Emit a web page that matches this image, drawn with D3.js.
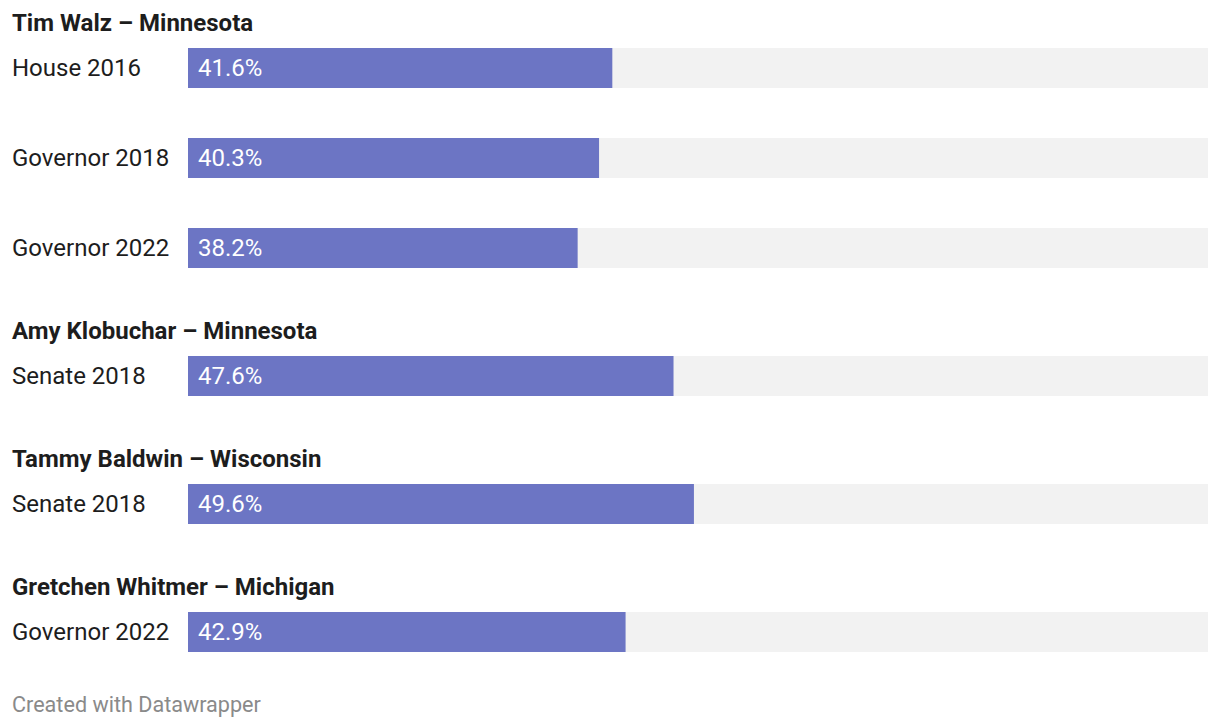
<!DOCTYPE html>
<html>
<head>
<meta charset="utf-8">
<script src="https://cdn.jsdelivr.net/npm/d3@7"></script>
<style>
  html, body { margin: 0; padding: 0; background: #fff; }
  svg { display: block; font-family: Roboto, "Noto Sans", sans-serif; }
</style>
</head>
<body>
<svg id="chart" width="1220" height="728"></svg>
<script>
// ---- data ----
const groups = ["Tim Walz – Minnesota", "Amy Klobuchar – Minnesota", "Tammy Baldwin – Wisconsin", "Gretchen Whitmer – Michigan"];
const rowGroup = [0, 0, 0, 1, 2, 3];
const rowLabels = ["House 2016", "Governor 2018", "Governor 2022", "Senate 2018", "Senate 2018", "Governor 2022"];
const values = [41.6, 40.3, 38.2, 47.6, 49.6, 42.9];
const footer = "Created with Datawrapper";

// ---- layout ----
const svg = d3.select("#chart");
const x = d3.scaleLinear().domain([0, 100]).range([188, 1208]);
const barH = 40;
const rowStep = 90;
const headerToBar = 25;
const barToHeader = 103;

const headerY = [];
const rowY = [];
let cursor = 23;
let lastGroup = -1;
rowLabels.forEach((lab, i) => {
  const g = rowGroup[i];
  if (g !== lastGroup) {
    if (lastGroup >= 0) cursor = rowY[i - 1] + barToHeader;
    headerY[g] = cursor;
    rowY[i] = cursor + headerToBar;
    lastGroup = g;
  } else {
    rowY[i] = rowY[i - 1] + rowStep;
  }
});

svg.selectAll("text.header").data(groups).join("text")
  .attr("class", "header")
  .attr("x", 12)
  .attr("y", (d, i) => headerY[i])
  .attr("dy", "0.35em")
  .attr("font-size", 24)
  .attr("font-weight", 700)
  .attr("fill", "#1d1d1d")
  .text(d => d);

const rows = svg.selectAll("g.row").data(values).join("g")
  .attr("class", "row")
  .attr("transform", (d, i) => `translate(0,${rowY[i]})`);

rows.append("rect")
  .attr("x", x(0)).attr("y", 0)
  .attr("width", x(100) - x(0)).attr("height", barH)
  .attr("fill", "#f2f2f2");

rows.append("rect")
  .attr("x", x(0)).attr("y", 0)
  .attr("width", d => x(d) - x(0)).attr("height", barH)
  .attr("fill", "#6c75c4");

rows.append("text")
  .attr("x", 12).attr("y", barH / 2).attr("dy", "0.35em")
  .attr("font-size", 24).attr("fill", "#1d1d1d")
  .text((d, i) => rowLabels[i]);

rows.append("text")
  .attr("x", x(0) + 10).attr("y", barH / 2).attr("dy", "0.35em")
  .attr("font-size", 24).attr("fill", "#ffffff")
  .text(d => d.toFixed(1) + "%");

svg.append("text")
  .attr("x", 12).attr("y", 704).attr("dy", "0.35em")
  .attr("font-size", 21.6).attr("fill", "#8a8a8a")
  .text(footer);
</script>
</body>
</html>
